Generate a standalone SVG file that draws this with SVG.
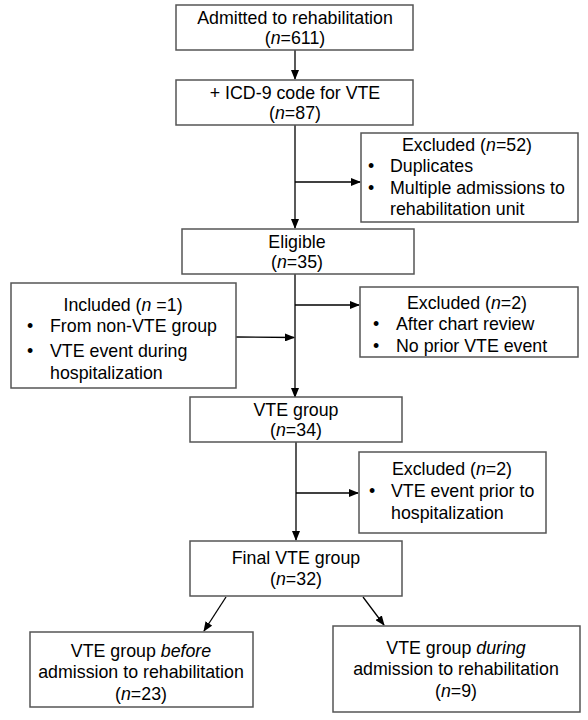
<svg xmlns="http://www.w3.org/2000/svg" width="588" height="720" viewBox="0 0 588 720">
<defs>
<style>
.box{fill:#fff;stroke:#555;stroke-width:1.5}
.t{font-family:"Liberation Sans",Arial,sans-serif;font-size:17.8px;fill:#000}
.c{text-anchor:middle}
.ln{stroke:#000;stroke-width:1.3;fill:none}
</style>
<marker id="ah" markerWidth="10" markerHeight="8" refX="9" refY="4" orient="auto" markerUnits="userSpaceOnUse">
<path d="M0,0 L10,4 L0,8 z" fill="#000"/>
</marker>
</defs>
<rect width="588" height="720" fill="#fff"/>
<g id="connectors">
<line class="ln" x1="295" y1="50" x2="295" y2="79" marker-end="url(#ah)"/>
<line class="ln" x1="295" y1="125" x2="295" y2="228" marker-end="url(#ah)"/>
<line class="ln" x1="295" y1="182" x2="360" y2="182" marker-end="url(#ah)"/>
<line class="ln" x1="295" y1="274" x2="295" y2="397" marker-end="url(#ah)"/>
<line class="ln" x1="295" y1="305" x2="359" y2="305" marker-end="url(#ah)"/>
<line class="ln" x1="236" y1="337" x2="294" y2="337.5" marker-end="url(#ah)"/>
<line class="ln" x1="296" y1="442" x2="296" y2="540" marker-end="url(#ah)"/>
<line class="ln" x1="296" y1="493" x2="358" y2="493" marker-end="url(#ah)"/>
<line class="ln" x1="226" y1="597" x2="204" y2="631" marker-end="url(#ah)"/>
<line class="ln" x1="363" y1="597" x2="384" y2="625" marker-end="url(#ah)"/>
</g>
<g id="admitted">
<rect class="box" x="176" y="5" width="237" height="45"/>
<text class="t c" x="295" y="24">Admitted to rehabilitation</text>
<text class="t c" x="295" y="44">(<tspan font-style="italic">n</tspan>=611)</text>
</g>
<g id="icd9">
<rect class="box" x="176" y="80" width="237" height="45"/>
<text class="t c" x="295" y="99">+ ICD-9 code for VTE</text>
<text class="t c" x="295" y="119">(<tspan font-style="italic">n</tspan>=87)</text>
</g>
<g id="excluded1">
<rect class="box" x="361" y="133" width="217" height="89"/>
<text class="t c" x="467" y="151">Excluded (<tspan font-style="italic">n</tspan>=52)</text>
<text class="t" x="368" y="172">•</text>
<text class="t" x="390" y="172">Duplicates</text>
<text class="t" x="368" y="194">•</text>
<text class="t" x="390" y="194">Multiple admissions to</text>
<text class="t" x="390" y="215">rehabilitation unit</text>
</g>
<g id="eligible">
<rect class="box" x="182" y="229" width="232" height="45"/>
<text class="t c" x="297" y="248">Eligible</text>
<text class="t c" x="297" y="268">(<tspan font-style="italic">n</tspan>=35)</text>
</g>
<g id="included">
<rect class="box" x="11" y="283" width="225" height="105"/>
<text class="t c" x="123" y="311">Included (<tspan font-style="italic">n</tspan> =1)</text>
<text class="t" x="27" y="332">•</text>
<text class="t" x="50" y="332">From non-VTE group</text>
<text class="t" x="27" y="357">•</text>
<text class="t" x="50" y="357">VTE event during</text>
<text class="t" x="50" y="379">hospitalization</text>
</g>
<g id="excluded2">
<rect class="box" x="360" y="287" width="218" height="70"/>
<text class="t c" x="467" y="309">Excluded (<tspan font-style="italic">n</tspan>=2)</text>
<text class="t" x="373" y="330">•</text>
<text class="t" x="396" y="330">After chart review</text>
<text class="t" x="373" y="352">•</text>
<text class="t" x="396" y="352">No prior VTE event</text>
</g>
<g id="vtegroup">
<rect class="box" x="190" y="397" width="212" height="45"/>
<text class="t c" x="296" y="416">VTE group</text>
<text class="t c" x="296" y="436">(<tspan font-style="italic">n</tspan>=34)</text>
</g>
<g id="excluded3">
<rect class="box" x="359" y="452" width="187" height="81"/>
<text class="t c" x="452" y="475">Excluded (<tspan font-style="italic">n</tspan>=2)</text>
<text class="t" x="369" y="497">•</text>
<text class="t" x="391" y="497">VTE event prior to</text>
<text class="t" x="391" y="519">hospitalization</text>
</g>
<g id="final">
<rect class="box" x="190" y="541" width="212" height="55"/>
<text class="t c" x="296" y="564">Final VTE group</text>
<text class="t c" x="296" y="585">(<tspan font-style="italic">n</tspan>=32)</text>
</g>
<g id="before">
<rect class="box" x="30" y="632" width="223" height="75"/>
<text class="t c" x="141" y="657">VTE group <tspan font-style="italic">before</tspan></text>
<text class="t c" x="141" y="678">admission to rehabilitation</text>
<text class="t c" x="141" y="700">(<tspan font-style="italic">n</tspan>=23)</text>
</g>
<g id="during">
<rect class="box" x="333" y="626" width="247" height="86"/>
<text class="t c" x="456" y="654">VTE group <tspan font-style="italic">during</tspan></text>
<text class="t c" x="456" y="675">admission to rehabilitation</text>
<text class="t c" x="456" y="697">(<tspan font-style="italic">n</tspan>=9)</text>
</g>
</svg>
